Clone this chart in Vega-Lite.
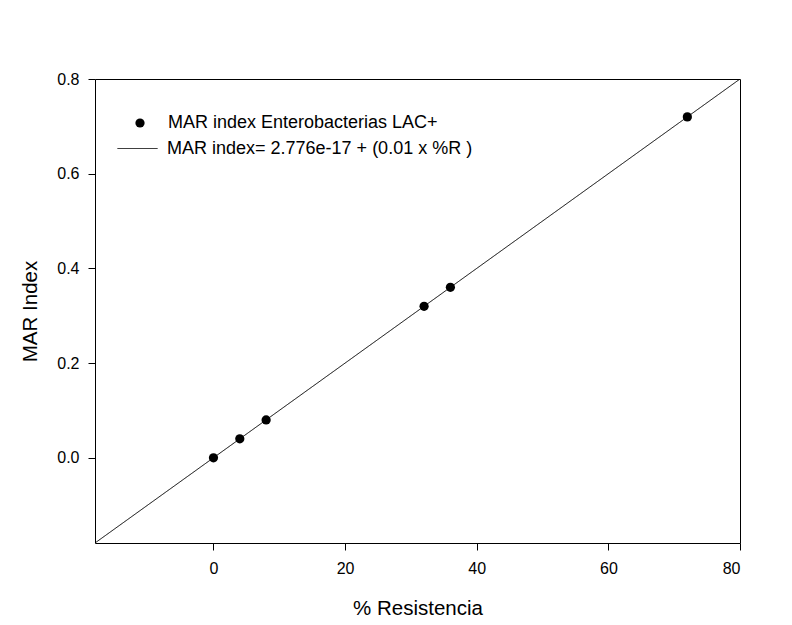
{
  "$schema": "https://vega.github.io/schema/vega-lite/v6.json",
  "autosize": {"type": "none"},
  "width": 645,
  "height": 464,
  "padding": {"left": 95, "top": 79, "right": 52, "bottom": 82},
  "background": "white",
  "config": {
    "font": "Liberation Sans",
    "view": {"stroke": "black", "strokeWidth": 1},
    "axis": {
      "grid": false,
      "domain": false,
      "tickColor": "black",
      "tickSize": 7,
      "labelColor": "black",
      "labelFontSize": 16,
      "labelFont": "Liberation Sans",
      "titleFont": "Liberation Sans",
      "titleFontWeight": "normal",
      "titleFontSize": 20.5,
      "titleColor": "black"
    },
    "legend": {
      "padding": 0,
      "labelFontSize": 18,
      "labelColor": "black",
      "labelFont": "Liberation Sans",
      "labelLimit": 500
    }
  },
  "layer": [
    {
      "data": {"values": [
        {"pct": -18, "mar": -0.18},
        {"pct": 80, "mar": 0.8}
      ]},
      "mark": {"type": "line", "strokeWidth": 1, "color": "black", "clip": true},
      "encoding": {
        "x": {"field": "pct", "type": "quantitative"},
        "y": {"field": "mar", "type": "quantitative"},
        "strokeDash": {
          "datum": "MAR index= 2.776e-17 + (0.01 x %R )",
          "scale": {"range": [[1, 0]]},
          "legend": {
            "title": null,
            "orient": "none",
            "legendX": 22,
            "legendY": 49,
            "symbolType": "stroke",
            "symbolSize": 1600,
            "symbolStrokeColor": "black",
            "symbolStrokeWidth": 1,
            "labelOffset": 9
          }
        }
      }
    },
    {
      "data": {"values": [
        {"pct": 0, "mar": 0.0},
        {"pct": 4, "mar": 0.04},
        {"pct": 8, "mar": 0.08},
        {"pct": 32, "mar": 0.32},
        {"pct": 36, "mar": 0.36},
        {"pct": 72, "mar": 0.72}
      ]},
      "mark": {"type": "point", "filled": true, "color": "black", "size": 85, "opacity": 1},
      "encoding": {
        "x": {
          "field": "pct", "type": "quantitative",
          "scale": {"domain": [-18, 80], "nice": false, "zero": false},
          "axis": {"title": "% Resistencia", "values": [0, 20, 40, 60, 80], "labelPadding": 10, "titlePadding": 22}
        },
        "y": {
          "field": "mar", "type": "quantitative",
          "scale": {"domain": [-0.18, 0.8], "nice": false, "zero": false},
          "axis": {"title": "MAR Index", "values": [0, 0.2, 0.4, 0.6, 0.8], "format": ".1f", "labelPadding": 9, "titlePadding": 16}
        },
        "shape": {
          "datum": "MAR index Enterobacterias LAC+",
          "scale": {"range": ["circle"]},
          "legend": {
            "title": null,
            "orient": "none",
            "legendX": 36,
            "legendY": 35,
            "symbolSize": 85,
            "symbolFillColor": "black",
            "symbolStrokeColor": "black",
            "symbolOpacity": 1,
            "labelOffset": 19
          }
        }
      }
    }
  ]
}
